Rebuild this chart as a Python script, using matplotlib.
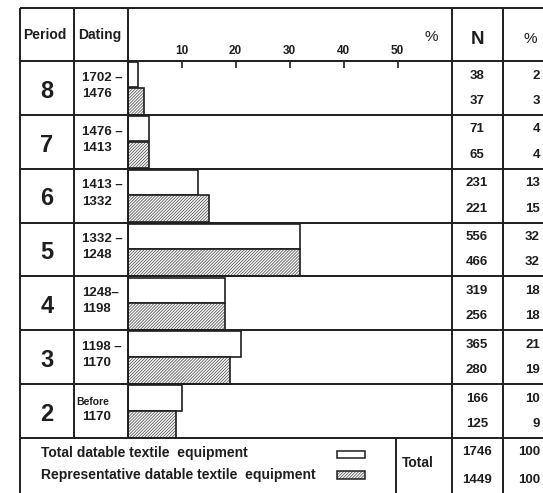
import matplotlib
matplotlib.use("Agg")
import matplotlib.pyplot as plt
from matplotlib.patches import Rectangle

plt.rcParams['font.family'] = ['Liberation Sans', 'DejaVu Sans']
plt.rcParams['hatch.linewidth'] = 0.6

# ---- data ----
periods = ['8', '7', '6', '5', '4', '3', '2']
dating_from = ['1702 –', '1476 –', '1413 –', '1332 –', '1248–', '1198 –', 'Before']
dating_to = ['1476', '1413', '1332', '1248', '1198', '1170', '1170']
n_total = [38, 71, 231, 556, 319, 365, 166]
n_repr = [37, 65, 221, 466, 256, 280, 125]
pct_total = [2, 4, 13, 32, 18, 21, 10]
pct_repr = [3, 4, 15, 32, 18, 19, 9]
sum_n = [1746, 1449]
sum_pct = [100, 100]
axis_ticks = [10, 20, 30, 40, 50]

HATCH = '/' * 11

W, H = 543, 493
fig = plt.figure(figsize=(W / 100, H / 100), dpi=100)
fig.patch.set_facecolor('white')

# table geometry (pixels)
x_left, x_period, x_dating, x_n, x_pct, x_right = 20, 74, 128, 452, 503, 543
x_total_sep = 396
y_top, y_head = 8, 61
row_h = (438 - y_head) / len(periods)
y_rows = [y_head + i * row_h for i in range(len(periods) + 1)]
y_legend_bot = 493

LC = '#1e1e1e'
LW = 1.4

# ---- bar chart axes, aligned to the chart column ----
ax = fig.add_axes([127.5 / W, 1 - y_rows[-1] / H, (x_n - 127.5) / W, (y_rows[-1] - y_head) / H])
ypos = list(range(len(periods)))
ax.barh([y - 0.245 for y in ypos], pct_total, height=0.47, color='white',
        edgecolor=LC, linewidth=1.2, zorder=2)
ax.barh([y + 0.245 for y in ypos], pct_repr, height=0.5, color='white',
        edgecolor='#5a5a5a', linewidth=0, hatch=HATCH, zorder=2)
ax.barh([y + 0.245 for y in ypos], pct_repr, height=0.5, fill=False,
        edgecolor=LC, linewidth=1.2, zorder=3)
ax.set_xlim(0, (x_n - 127.5) / 5.4)
ax.set_ylim(len(periods) - 0.5, -0.5)
ax.set_yticks([])
ax.set_xticks(axis_ticks)
ax.xaxis.tick_top()
ax.tick_params(axis='x', direction='in', length=5, width=1.2, pad=3,
               labelsize=8.5, colors=LC)
for lbl in ax.get_xticklabels():
    lbl.set_fontweight('bold')
for s in ax.spines.values():
    s.set_visible(False)

# ---- overlay for the table frame and text ----
ov = fig.add_axes([0, 0, 1, 1])
ov.set_xlim(0, W)
ov.set_ylim(H, 0)
ov.axis('off')

def hline(y, x0, x1):
    ov.plot([x0, x1], [y, y], color=LC, lw=LW, solid_capstyle='butt')

def vline(x, y0, y1):
    ov.plot([x, x], [y0, y1], color=LC, lw=LW, solid_capstyle='butt')

hline(y_top, x_left, x_right)
for y in y_rows:
    hline(y, x_left, x_right)
vline(x_left, y_top, y_legend_bot)
vline(x_period, y_top, y_rows[-1])
vline(x_dating, y_top, y_rows[-1])
vline(x_n, y_top, y_legend_bot)
vline(x_pct, y_top, y_legend_bot)
vline(x_total_sep, y_rows[-1], y_legend_bot)

# headers
ov.text(45, 35, 'Period', ha='center', va='center', fontsize=10, fontweight='bold', color=LC)
ov.text(100, 35, 'Dating', ha='center', va='center', fontsize=10, fontweight='bold', color=LC)
ov.text(431, 37, '%', ha='center', va='center', fontsize=11, color=LC)
ov.text(477, 40, 'N', ha='center', va='center', fontsize=13.5, fontweight='bold', color=LC)
ov.text(530, 39, '%', ha='center', va='center', fontsize=11, color=LC)

# rows
NS = 9.5
for i, p in enumerate(periods):
    top = y_rows[i]
    ov.text(47, top + 0.56 * row_h, p, ha='center', va='center',
            fontsize=17, fontweight='bold', color=LC)
    if dating_from[i] == 'Before':
        ov.text(76, top + 0.33 * row_h, dating_from[i], ha='left', va='center',
                fontsize=7.5, fontweight='bold', color=LC)
    else:
        ov.text(82, top + 0.31 * row_h, dating_from[i], ha='left', va='center',
                fontsize=9.5, fontweight='bold', color=LC)
    ov.text(82, top + 0.61 * row_h, dating_to[i], ha='left', va='center',
            fontsize=9.5, fontweight='bold', color=LC)
    ov.text(477, top + 0.27 * row_h, str(n_total[i]), ha='center', va='center',
            fontsize=NS, fontweight='bold', color=LC)
    ov.text(477, top + 0.74 * row_h, str(n_repr[i]), ha='center', va='center',
            fontsize=NS, fontweight='bold', color=LC)
    ov.text(540, top + 0.27 * row_h, str(pct_total[i]), ha='right', va='center',
            fontsize=NS, fontweight='bold', color=LC)
    ov.text(540, top + 0.74 * row_h, str(pct_repr[i]), ha='right', va='center',
            fontsize=NS, fontweight='bold', color=LC)

# legend row
ov.text(41, 453, 'Total datable textile  equipment', ha='left', va='center',
        fontsize=10, fontweight='bold', color=LC)
ov.text(41, 475, 'Representative datable textile  equipment', ha='left', va='center',
        fontsize=10, fontweight='bold', color=LC)
ov.add_patch(Rectangle((337, 451), 28, 7, facecolor='white', edgecolor=LC, lw=1.1))
ov.add_patch(Rectangle((337, 471), 28, 8, facecolor='white', edgecolor='#5a5a5a',
                       lw=0, hatch=HATCH))
ov.add_patch(Rectangle((337, 471), 28, 8, fill=False, edgecolor=LC, lw=1.1))
ov.text(402, 463, 'Total', ha='left', va='center', fontsize=10, fontweight='bold', color=LC)
ov.text(477, 452, str(sum_n[0]), ha='center', va='center', fontsize=NS, fontweight='bold', color=LC)
ov.text(477, 480, str(sum_n[1]), ha='center', va='center', fontsize=NS, fontweight='bold', color=LC)
ov.text(540, 452, str(sum_pct[0]), ha='right', va='center', fontsize=NS, fontweight='bold', color=LC)
ov.text(540, 480, str(sum_pct[1]), ha='right', va='center', fontsize=NS, fontweight='bold', color=LC)

fig.savefig('out.png', dpi=100)
